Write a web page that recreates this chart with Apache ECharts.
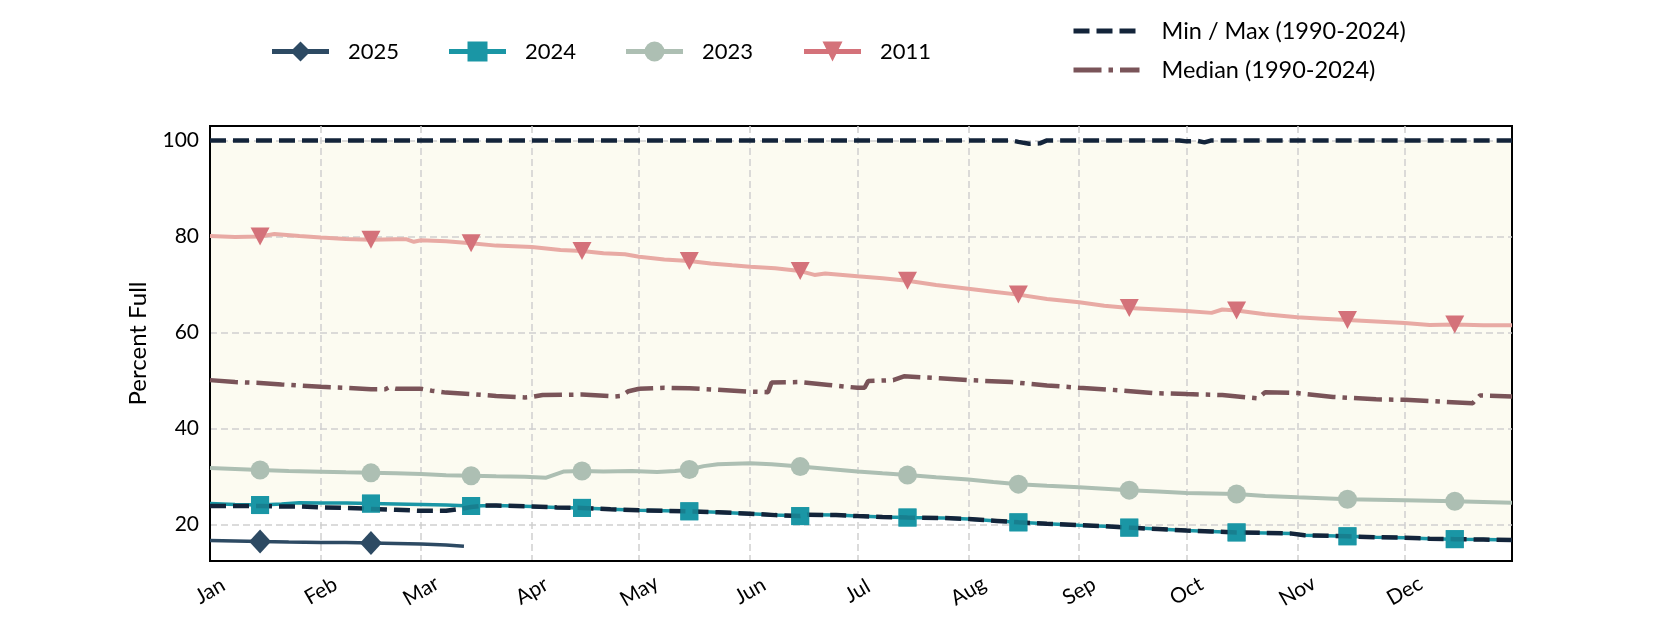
<!DOCTYPE html>
<html>
<head>
<meta charset="utf-8">
<script src="https://cdn.jsdelivr.net/npm/echarts@6/dist/echarts.min.js"></script>
<style>
html,body{margin:0;padding:0;background:#ffffff;}
#chart{width:1680px;height:630px;}
</style>
</head>
<body>
<div id="chart"></div>
<script>
// ---- axis / tick data ----
const monthStarts = [0, 31, 59, 90, 120, 151, 181, 212, 243, 273, 304, 334];
const monthLabels = ['Jan', 'Feb', 'Mar', 'Apr', 'May', 'Jun', 'Jul', 'Aug', 'Sep', 'Oct', 'Nov', 'Dec'];
const yTicks = [20, 40, 60, 80, 100];
const markerDays = [14, 45, 73, 104, 134, 165, 195, 226, 257, 287, 318, 348];

// ---- series data: [day of year, percent full] ----
const s2025 = [[0,16.7],[7,16.6],[14,16.5],[22,16.4],[31,16.3],[38,16.3],[45,16.2],[52,16.1],[59,16.0],[66,15.8],[71,15.5]];

const s2024 = [[0,24.4],[7,24.2],[14,24.1],[20,24.3],[25,24.6],[31,24.5],[38,24.5],[45,24.4],[52,24.3],[59,24.2],[66,24.1],[73,23.9],[80,24.0],[90,23.8],[97,23.6],[104,23.5],[112,23.2],[120,23.0],[127,22.9],[134,22.8],[142,22.6],[151,22.3],[158,22.0],[165,21.8],[167,22.1],[175,22.0],[181,21.8],[188,21.6],[195,21.5],[205,21.4],[212,21.2],[220,20.8],[226,20.5],[234,20.2],[243,19.9],[250,19.7],[257,19.4],[265,19.1],[273,18.8],[280,18.6],[287,18.4],[295,18.3],[302,18.2],[306,17.8],[318,17.6],[326,17.4],[334,17.3],[341,17.1],[348,17.0],[356,16.9],[364,16.8]];

const s2023 = [[0,31.8],[7,31.6],[14,31.4],[22,31.2],[31,31.05],[38,30.9],[45,30.8],[52,30.7],[59,30.55],[66,30.3],[73,30.2],[80,30.1],[88,30.0],[94,29.8],[97,30.6],[99,31.1],[104,31.2],[110,31.1],[118,31.2],[125,31.0],[130,31.2],[134,31.5],[138,32.2],[142,32.6],[151,32.8],[157,32.6],[165,32.1],[173,31.6],[181,31.1],[188,30.7],[195,30.35],[203,29.9],[212,29.4],[219,28.9],[226,28.45],[234,28.1],[243,27.8],[250,27.5],[257,27.2],[265,26.9],[273,26.6],[280,26.5],[287,26.4],[295,26.0],[304,25.7],[311,25.5],[318,25.3],[326,25.2],[334,25.1],[341,25.0],[348,24.9],[356,24.75],[364,24.6]];

const s2011 = [[0,80.1],[7,79.9],[14,80.0],[18,80.5],[25,80.1],[31,79.8],[38,79.5],[45,79.3],[52,79.4],[55,79.4],[57,78.9],[59,79.2],[66,79.0],[73,78.6],[80,78.1],[90,77.8],[98,77.2],[104,77.0],[110,76.5],[116,76.3],[120,75.8],[127,75.2],[134,74.9],[140,74.4],[146,74.0],[151,73.7],[158,73.4],[165,72.8],[169,72.0],[172,72.3],[181,71.7],[188,71.3],[195,70.8],[203,69.9],[212,69.1],[219,68.5],[226,67.9],[234,67.0],[243,66.3],[250,65.6],[257,65.1],[265,64.8],[273,64.5],[280,64.1],[283,64.8],[287,64.6],[295,63.8],[304,63.2],[311,62.9],[318,62.6],[326,62.3],[334,62.0],[341,61.6],[348,61.7],[356,61.5],[364,61.5]];

const sMedian = [[0,50.1],[7,49.7],[14,49.5],[20,49.2],[31,48.7],[38,48.5],[45,48.2],[49,48.2],[50,48.6],[52,48.3],[59,48.3],[62,47.9],[66,47.5],[73,47.2],[80,46.8],[88,46.5],[90,46.6],[93,47.0],[104,47.1],[113,46.7],[115,46.8],[117,47.8],[120,48.3],[127,48.5],[134,48.4],[142,48.1],[151,47.7],[156,47.6],[157,49.6],[165,49.7],[173,49.1],[181,48.5],[183,48.5],[184,49.9],[191,50.1],[194,50.9],[204,50.5],[212,50.1],[224,49.7],[234,49.0],[243,48.5],[254,48.0],[264,47.4],[273,47.2],[283,47.0],[293,46.3],[295,47.6],[304,47.4],[314,46.6],[326,46.1],[334,46.0],[345,45.6],[353,45.3],[355,46.9],[364,46.7]];

const sMax = [[0,100],[224,100],[226,99.7],[229,99.3],[232,99.4],[234,100],[271,100],[273,99.8],[276,99.9],[278,99.6],[280,100],[364,100]];

const sMin = [[0,23.9],[7,23.9],[14,23.9],[20,23.8],[25,23.8],[31,23.6],[38,23.5],[45,23.3],[52,23.1],[59,22.9],[66,22.9],[70,23.3],[73,23.7],[77,24.0],[80,24.0],[90,23.8],[97,23.6],[104,23.5],[112,23.2],[120,23.0],[127,22.9],[134,22.8],[142,22.6],[151,22.3],[158,22.0],[165,21.8],[167,22.1],[175,22.0],[181,21.8],[188,21.6],[195,21.5],[205,21.4],[212,21.2],[220,20.8],[226,20.5],[234,20.2],[243,19.9],[250,19.7],[257,19.4],[265,19.1],[273,18.8],[280,18.6],[287,18.4],[295,18.3],[302,18.2],[306,17.8],[318,17.6],[326,17.4],[334,17.3],[341,17.1],[348,17.0],[356,16.9],[364,16.8]];

// ---- styles ----
const FONT = 'Lato';
const C2025 = '#2d4a63', C2024 = '#1a96a5', C2023 = '#adbfb3', C2011 = '#d4727a', C2011LINE = '#e8aaa4';
const CMINMAX = '#13243a', CMED = '#7a5459', BAND = '#fcfbf1';
const NAME_MM = 'Min / Max (1990-2024)', NAME_MED = 'Median (1990-2024)';
const DASH = [16, 7], DASHDOT = [28, 7, 4.5, 7];

function withMarkers(arr) {
  return arr.map(p => markerDays.indexOf(p[0]) >= 0 ? {value: p} : {value: p, symbol: 'none'});
}

const chart = echarts.init(document.getElementById('chart'), null, {renderer: 'canvas'});

const yearLegendLefts = [269.5, 446.5, 623.5, 801.5];
const yearNames = ['2025', '2024', '2023', '2011'];
const legends = yearNames.map((n, i) => ({
  data: n === '2011' ? [{name: n, lineStyle: {color: C2011}}] : [n],
  left: yearLegendLefts[i], top: 40.5, padding: 0,
  itemWidth: 57, itemHeight: 25, selectedMode: false,
  lineStyle: {width: 5},
  textStyle: {fontFamily: FONT, fontSize: 22, color: '#000', padding: [0, 0, 0, 14]}
}));
legends.push({
  data: [{name: NAME_MM, itemStyle: {opacity: 0}}, {name: NAME_MED, itemStyle: {opacity: 0}}],
  orient: 'vertical', left: 1071, top: 19, padding: 0, itemGap: 15,
  itemWidth: 66, itemHeight: 25, selectedMode: false,
  lineStyle: {width: 5},
  textStyle: {fontFamily: FONT, fontSize: 23.5, color: '#000', padding: [0, 0, 0, 17]}
});

const option = {
  animation: false,
  backgroundColor: '#ffffff',
  textStyle: {fontFamily: FONT},
  legend: legends,
  grid: {
    left: 210, right: 168, top: 126, bottom: 69,
    containLabel: false, outerBoundsMode: 'none',
    show: true, borderColor: '#000', borderWidth: 2, backgroundColor: 'rgba(0,0,0,0)'
  },
  xAxis: {
    type: 'value', min: 0, max: 364,
    axisLine: {show: true, lineStyle: {color: '#000', width: 2}},
    axisTick: {show: false, customValues: monthStarts},
    splitLine: {show: true, lineStyle: {color: '#cfcfcf', width: 1.5, type: [7, 4]}},
    axisLabel: {
      customValues: monthStarts,
      formatter: v => monthLabels[monthStarts.indexOf(v)] || '',
      rotate: 30, align: 'center', verticalAlign: 'middle', margin: 30,
      fontFamily: FONT, fontSize: 21, color: '#000'
    }
  },
  yAxis: {
    type: 'value', min: 12.45, max: 103,
    name: 'Percent Full', nameLocation: 'middle', nameGap: 60,
    nameTextStyle: {fontFamily: FONT, fontSize: 24, color: '#000'},
    axisLine: {show: true, lineStyle: {color: '#000', width: 2}},
    axisTick: {show: false, customValues: yTicks},
    splitLine: {show: true, lineStyle: {color: '#cfcfcf', width: 1.5, type: [7, 4]}},
    axisLabel: {customValues: yTicks, margin: 11, fontFamily: FONT, fontSize: 21, color: '#000'}
  },
  series: [
    {
      type: 'custom', name: 'band', silent: true, z: -1, clip: true,
      renderItem: function (params, api) {
        if (params.dataIndex !== 0) return;
        const pts = [];
        sMin.forEach(p => pts.push(api.coord(p)));
        for (let i = sMax.length - 1; i >= 0; i--) pts.push(api.coord(sMax[i]));
        return {type: 'polygon', shape: {points: pts}, style: {fill: BAND}};
      },
      data: [[0, 50]]
    },
    {
      type: 'line', name: NAME_MM, data: sMax, symbol: 'none', z: 3,
      lineStyle: {color: CMINMAX, width: 4.5, type: DASH}, itemStyle: {color: CMINMAX}
    },
    {
      type: 'line', name: NAME_MED, data: sMedian, symbol: 'none', z: 3,
      lineStyle: {color: CMED, width: 4.5, type: DASHDOT}, itemStyle: {color: CMED}
    },
    {
      type: 'line', name: '2011', data: withMarkers(s2011), z: 3,
      symbol: 'triangle', symbolSize: [19, 18], symbolRotate: 180,
      lineStyle: {color: C2011LINE, width: 4}, itemStyle: {color: C2011}
    },
    {
      type: 'line', name: '2023', data: withMarkers(s2023), z: 3,
      symbol: 'circle', symbolSize: 19,
      lineStyle: {color: C2023, width: 4}, itemStyle: {color: C2023}
    },
    {
      type: 'line', name: '2024', data: withMarkers(s2024), z: 3,
      symbol: 'rect', symbolSize: 18,
      lineStyle: {color: C2024, width: 3.5}, itemStyle: {color: C2024}
    },
    {
      type: 'line', name: NAME_MM, data: sMin, symbol: 'none', z: 4,
      lineStyle: {color: CMINMAX, width: 4.5, type: DASH}, itemStyle: {color: CMINMAX}
    },
    {
      type: 'scatter', name: '2024 markers', z: 5, silent: true,
      data: s2024.filter(p => markerDays.indexOf(p[0]) >= 0),
      symbol: 'rect', symbolSize: 18, itemStyle: {color: C2024}
    },
    {
      type: 'line', name: '2025', data: withMarkers(s2025), z: 6,
      symbol: 'diamond', symbolSize: [22, 24],
      lineStyle: {color: C2025, width: 3.5}, itemStyle: {color: C2025}
    }
  ]
};
chart.setOption(option);
</script>
</body>
</html>
